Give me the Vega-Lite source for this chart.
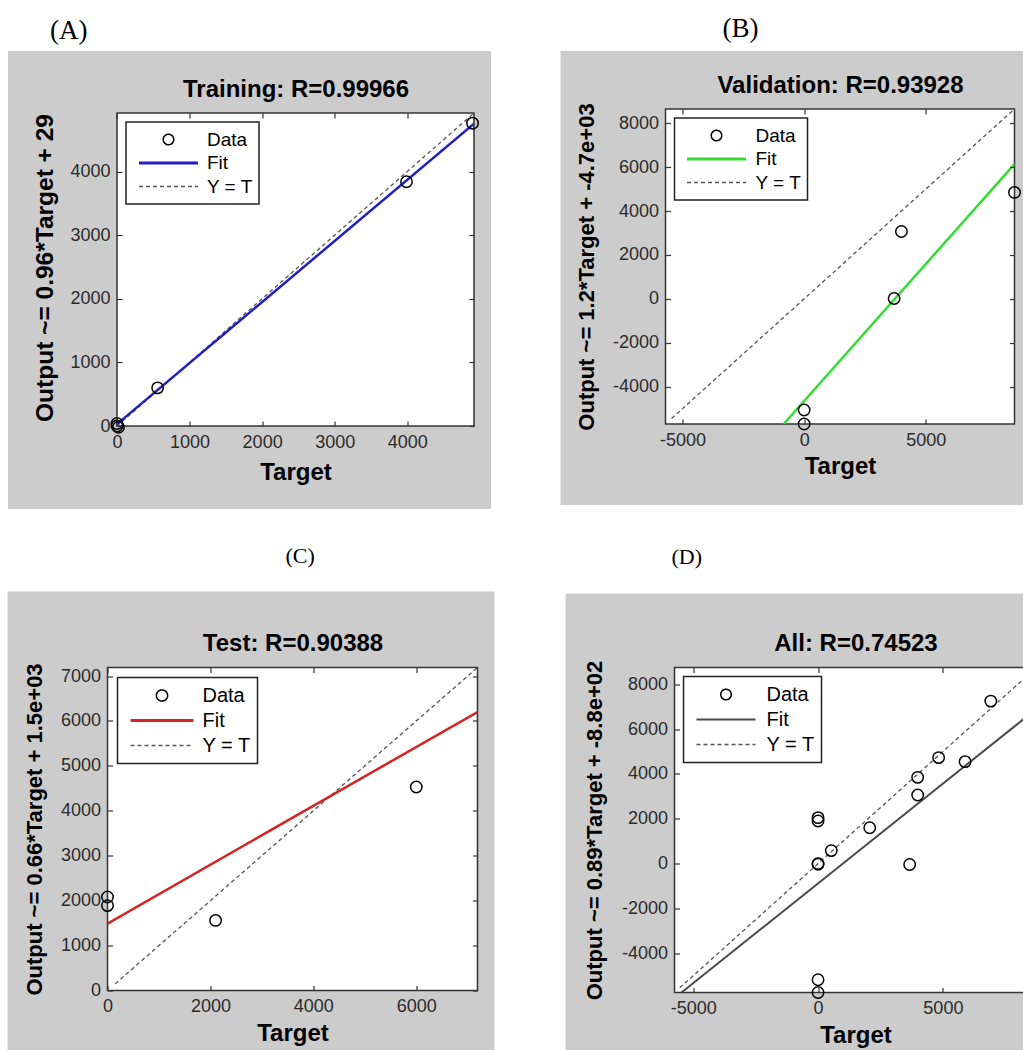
{
  "$schema": "https://vega.github.io/schema/vega-lite/v6.json",
  "background": "white",
  "padding": {"left": 7.5, "top": 15, "right": 0, "bottom": 0},
  "bounds": "full",
  "align": "none",
  "columns": 1,
  "spacing": 34.5,
  "resolve": {"scale": {"color": "independent"}, "legend": {"color": "independent"}},
  "concat": [
    {
      "bounds": "full",
      "spacing": 69,
      "resolve": {"scale": {"color": "independent"}, "legend": {"color": "independent"}},
      "hconcat": [
        {
          "width": 366.5, "height": 317,
          "title": {"text": "(A)", "anchor": "start", "frame": "bounds", "dx": 42, "offset": 6, "font": "Liberation Serif", "fontSize": 27, "fontWeight": "normal", "color": "black"},
          "data": {"values": [
            {"series": "Data", "target": 0, "output": 0},
            {"series": "Data", "target": 20, "output": -20},
            {"series": "Data", "target": 0, "output": 40},
            {"series": "Data", "target": 560, "output": 600},
            {"series": "Data", "target": 3990, "output": 3840},
            {"series": "Data", "target": 4900, "output": 4760},
            {"series": "Fit", "target": 0, "output": 29},
            {"series": "Fit", "target": 4920, "output": 4752},
            {"series": "Y = T", "target": 0, "output": 0},
            {"series": "Y = T", "target": 4920, "output": 4920}
          ]},
          "resolve": {"axis": {"x": "independent", "y": "independent"}},
          "layer": [
            {
              "data": {"values": [{"frame": "figure"}]},
              "mark": {"type": "rect", "color": "#cccccc"},
              "encoding": {
                "x": {"datum": -1502, "type": "quantitative", "scale": {"domain": [-130.9, 4920], "nice": false, "zero": false}, "axis": null},
                "x2": {"datum": 5154},
                "y": {"datum": 5895, "type": "quantitative", "scale": {"domain": [0, 4982.9], "nice": false, "zero": false}, "axis": null},
                "y2": {"datum": -1305}
              }
            },
            {
              "data": {"values": [{"frame": "axes"}]},
              "mark": {"type": "rect", "fill": "white", "stroke": "#333333", "strokeWidth": 1.5},
              "encoding": {
                "x": {"datum": 0, "type": "quantitative", "scale": {"domain": [-130.9, 4920], "nice": false, "zero": false},
                  "axis": {"orient": "bottom", "zindex": 1, "values": [0, 1000, 2000, 3000, 4000], "labelExpr": "'' + datum.value", "title": "Target", "titlePadding": 9, "titleX": 188}},
                "x2": {"datum": 4920},
                "y": {"datum": 0, "type": "quantitative", "scale": {"domain": [0, 4982.9], "nice": false, "zero": false},
                  "axis": {"orient": "left", "offset": -9.5, "zindex": 1, "values": [0, 1000, 2000, 3000, 4000], "labelExpr": "'' + datum.value", "title": "Output ~= 0.96*Target + 29", "titleFontSize": 24.5, "titlePadding": 12}},
                "y2": {"datum": 4920}
              }
            },
            {
              "transform": [{"filter": "datum.series === 'Y = T'"}],
              "mark": {"type": "line", "strokeDash": [4, 3], "strokeWidth": 1.3, "clip": true},
              "encoding": {
                "x": {"field": "target", "type": "quantitative", "scale": {"domain": [-130.9, 4920], "nice": false, "zero": false},
                  "axis": {"orient": "top", "offset": -4, "zindex": 1, "values": [0, 1000, 2000, 3000, 4000], "labels": false, "title": "Training: R=0.99966", "titlePadding": 11, "titleX": 188}},
                "y": {"field": "output", "type": "quantitative", "scale": {"domain": [0, 4982.9], "nice": false, "zero": false},
                  "axis": {"orient": "right", "zindex": 1, "values": [0, 1000, 2000, 3000, 4000], "labels": false, "title": null}},
                "color": {"field": "series", "type": "nominal", "scale": {"domain": ["Data", "Fit", "Y = T"], "range": ["black", "#2020c0", "#555555"]},
                  "legend": {"title": null, "orient": "none", "legendX": 18.5, "legendY": 13, "padding": 6, "strokeColor": "#222222", "fillColor": "white", "symbolSize": 3481, "clipHeight": 23, "rowPadding": 0.5, "symbolOffset": 27, "labelOffset": 29, "labelFont": "Liberation Sans", "labelFontSize": 19, "labelColor": "black", "symbolStrokeWidth": 2, "zindex": 2,
                    "encode": {"symbols": {"update": {"size": {"value": 3481}, "shape": {"signal": "datum.value === 'Data' ? 'M0.178,0A0.178,0.178,0,1,1,-0.178,0A0.178,0.178,0,1,1,0.178,0Z' : 'stroke'"}, "strokeDash": {"signal": "datum.value === 'Y = T' ? [4,3] : [1,0]"}, "strokeWidth": {"signal": "datum.value === 'Fit' ? 3 : 1.5"}, "fill": {"value": "transparent"}}}, "legend": {"update": {"strokeWidth": {"value": 1.5}}}}}}
              }
            },
            {
              "transform": [{"filter": "datum.series === 'Fit'"}],
              "mark": {"type": "line", "strokeWidth": 2.5, "clip": true},
              "encoding": {
                "x": {"field": "target", "type": "quantitative", "scale": {"domain": [-130.9, 4920], "nice": false, "zero": false}, "axis": null},
                "y": {"field": "output", "type": "quantitative", "scale": {"domain": [0, 4982.9], "nice": false, "zero": false}, "axis": null},
                "color": {"field": "series", "type": "nominal", "scale": {"domain": ["Data", "Fit", "Y = T"], "range": ["black", "#2020c0", "#555555"]},
                  "legend": {"title": null, "orient": "none", "legendX": 18.5, "legendY": 13, "padding": 6, "strokeColor": "#222222", "fillColor": "white", "symbolSize": 3481, "clipHeight": 23, "rowPadding": 0.5, "symbolOffset": 27, "labelOffset": 29, "labelFont": "Liberation Sans", "labelFontSize": 19, "labelColor": "black", "symbolStrokeWidth": 2, "zindex": 2,
                    "encode": {"symbols": {"update": {"size": {"value": 3481}, "shape": {"signal": "datum.value === 'Data' ? 'M0.178,0A0.178,0.178,0,1,1,-0.178,0A0.178,0.178,0,1,1,0.178,0Z' : 'stroke'"}, "strokeDash": {"signal": "datum.value === 'Y = T' ? [4,3] : [1,0]"}, "strokeWidth": {"signal": "datum.value === 'Fit' ? 3 : 1.5"}, "fill": {"value": "transparent"}}}, "legend": {"update": {"strokeWidth": {"value": 1.5}}}}}}
              }
            },
            {
              "transform": [{"filter": "datum.series === 'Data'"}],
              "mark": {"type": "point", "shape": "circle", "filled": false, "size": 130, "strokeWidth": 1.5, "opacity": 1},
              "encoding": {
                "x": {"field": "target", "type": "quantitative", "scale": {"domain": [-130.9, 4920], "nice": false, "zero": false}, "axis": null},
                "y": {"field": "output", "type": "quantitative", "scale": {"domain": [0, 4982.9], "nice": false, "zero": false}, "axis": null},
                "color": {"field": "series", "type": "nominal", "scale": {"domain": ["Data", "Fit", "Y = T"], "range": ["black", "#2020c0", "#555555"]},
                  "legend": {"title": null, "orient": "none", "legendX": 18.5, "legendY": 13, "padding": 6, "strokeColor": "#222222", "fillColor": "white", "symbolSize": 3481, "clipHeight": 23, "rowPadding": 0.5, "symbolOffset": 27, "labelOffset": 29, "labelFont": "Liberation Sans", "labelFontSize": 19, "labelColor": "black", "symbolStrokeWidth": 2, "zindex": 2,
                    "encode": {"symbols": {"update": {"size": {"value": 3481}, "shape": {"signal": "datum.value === 'Data' ? 'M0.178,0A0.178,0.178,0,1,1,-0.178,0A0.178,0.178,0,1,1,0.178,0Z' : 'stroke'"}, "strokeDash": {"signal": "datum.value === 'Y = T' ? [4,3] : [1,0]"}, "strokeWidth": {"signal": "datum.value === 'Fit' ? 3 : 1.5"}, "fill": {"value": "transparent"}}}, "legend": {"update": {"strokeWidth": {"value": 1.5}}}}}}
              }
            }
          ]
        },
        {
          "width": 349, "height": 315,
          "title": {"text": "(B)", "anchor": "start", "frame": "bounds", "dx": 162, "offset": 8, "font": "Liberation Serif", "fontSize": 27, "fontWeight": "normal", "color": "black"},
          "data": {"values": [
            {"series": "Data", "target": 0, "output": -5060},
            {"series": "Data", "target": 0, "output": -5700},
            {"series": "Data", "target": 3700, "output": 20},
            {"series": "Data", "target": 4000, "output": 3070},
            {"series": "Data", "target": 8650, "output": 4850},
            {"series": "Fit", "target": -840, "output": -5700},
            {"series": "Fit", "target": 8650, "output": 6140},
            {"series": "Y = T", "target": -5450, "output": -5450},
            {"series": "Y = T", "target": 8650, "output": 8650}
          ]},
          "resolve": {"axis": {"x": "independent", "y": "independent"}},
          "layer": [
            {
              "data": {"values": [{"frame": "figure"}]},
              "mark": {"type": "rect", "color": "#cccccc"},
              "encoding": {
                "x": {"datum": -10017, "type": "quantitative", "scale": {"domain": [-5700, 8650], "nice": false, "zero": false}, "axis": null},
                "x2": {"datum": 9308},
                "y": {"datum": 11292, "type": "quantitative", "scale": {"domain": [-5700, 8650], "nice": false, "zero": false}, "axis": null},
                "y2": {"datum": -9390}
              }
            },
            {
              "data": {"values": [{"frame": "axes"}]},
              "mark": {"type": "rect", "fill": "white", "stroke": "#333333", "strokeWidth": 1.5},
              "encoding": {
                "x": {"datum": -5700, "type": "quantitative", "scale": {"domain": [-5700, 8650], "nice": false, "zero": false},
                  "axis": {"orient": "bottom", "zindex": 1, "values": [-5000, 0, 5000], "labelExpr": "'' + datum.value", "title": "Target", "titlePadding": 5}},
                "x2": {"datum": 8650},
                "y": {"datum": -5700, "type": "quantitative", "scale": {"domain": [-5700, 8650], "nice": false, "zero": false},
                  "axis": {"orient": "left", "zindex": 1, "values": [-4000, -2000, 0, 2000, 4000, 6000, 8000], "labelExpr": "'' + datum.value", "title": "Output ~= 1.2*Target + -4.7e+03", "titleFontSize": 22, "titlePadding": 13.5}},
                "y2": {"datum": 8650}
              }
            },
            {
              "transform": [{"filter": "datum.series === 'Y = T'"}],
              "mark": {"type": "line", "strokeDash": [4, 3], "strokeWidth": 1.3, "clip": true},
              "encoding": {
                "x": {"field": "target", "type": "quantitative", "scale": {"domain": [-5700, 8650], "nice": false, "zero": false},
                  "axis": {"orient": "top", "zindex": 1, "values": [-5000, 0, 5000], "labels": false, "title": "Validation: R=0.93928", "titlePadding": 11}},
                "y": {"field": "output", "type": "quantitative", "scale": {"domain": [-5700, 8650], "nice": false, "zero": false},
                  "axis": {"orient": "right", "zindex": 1, "values": [-4000, -2000, 0, 2000, 4000, 6000, 8000], "labels": false, "title": null}},
                "color": {"field": "series", "type": "nominal", "scale": {"domain": ["Data", "Fit", "Y = T"], "range": ["black", "#35dc35", "#555555"]},
                  "legend": {"title": null, "orient": "top-left", "offset": 9, "padding": 6, "strokeColor": "#222222", "fillColor": "white", "symbolSize": 3481, "clipHeight": 23, "rowPadding": 0.5, "symbolOffset": 26.5, "labelOffset": 29.5, "labelFont": "Liberation Sans", "labelFontSize": 19, "labelColor": "black", "symbolStrokeWidth": 2, "zindex": 2,
                    "encode": {"symbols": {"update": {"size": {"value": 3481}, "shape": {"signal": "datum.value === 'Data' ? 'M0.178,0A0.178,0.178,0,1,1,-0.178,0A0.178,0.178,0,1,1,0.178,0Z' : 'stroke'"}, "strokeDash": {"signal": "datum.value === 'Y = T' ? [4,3] : [1,0]"}, "strokeWidth": {"signal": "datum.value === 'Fit' ? 3 : 1.5"}, "fill": {"value": "transparent"}}}, "legend": {"update": {"strokeWidth": {"value": 1.5}}}}}}
              }
            },
            {
              "transform": [{"filter": "datum.series === 'Fit'"}],
              "mark": {"type": "line", "strokeWidth": 2.5, "clip": true},
              "encoding": {
                "x": {"field": "target", "type": "quantitative", "scale": {"domain": [-5700, 8650], "nice": false, "zero": false}, "axis": null},
                "y": {"field": "output", "type": "quantitative", "scale": {"domain": [-5700, 8650], "nice": false, "zero": false}, "axis": null},
                "color": {"field": "series", "type": "nominal", "scale": {"domain": ["Data", "Fit", "Y = T"], "range": ["black", "#35dc35", "#555555"]},
                  "legend": {"title": null, "orient": "top-left", "offset": 9, "padding": 6, "strokeColor": "#222222", "fillColor": "white", "symbolSize": 3481, "clipHeight": 23, "rowPadding": 0.5, "symbolOffset": 26.5, "labelOffset": 29.5, "labelFont": "Liberation Sans", "labelFontSize": 19, "labelColor": "black", "symbolStrokeWidth": 2, "zindex": 2,
                    "encode": {"symbols": {"update": {"size": {"value": 3481}, "shape": {"signal": "datum.value === 'Data' ? 'M0.178,0A0.178,0.178,0,1,1,-0.178,0A0.178,0.178,0,1,1,0.178,0Z' : 'stroke'"}, "strokeDash": {"signal": "datum.value === 'Y = T' ? [4,3] : [1,0]"}, "strokeWidth": {"signal": "datum.value === 'Fit' ? 3 : 1.5"}, "fill": {"value": "transparent"}}}, "legend": {"update": {"strokeWidth": {"value": 1.5}}}}}}
              }
            },
            {
              "transform": [{"filter": "datum.series === 'Data'"}],
              "mark": {"type": "point", "shape": "circle", "filled": false, "size": 130, "strokeWidth": 1.5, "opacity": 1},
              "encoding": {
                "x": {"field": "target", "type": "quantitative", "scale": {"domain": [-5700, 8650], "nice": false, "zero": false}, "axis": null},
                "y": {"field": "output", "type": "quantitative", "scale": {"domain": [-5700, 8650], "nice": false, "zero": false}, "axis": null},
                "color": {"field": "series", "type": "nominal", "scale": {"domain": ["Data", "Fit", "Y = T"], "range": ["black", "#35dc35", "#555555"]},
                  "legend": {"title": null, "orient": "top-left", "offset": 9, "padding": 6, "strokeColor": "#222222", "fillColor": "white", "symbolSize": 3481, "clipHeight": 23, "rowPadding": 0.5, "symbolOffset": 26.5, "labelOffset": 29.5, "labelFont": "Liberation Sans", "labelFontSize": 19, "labelColor": "black", "symbolStrokeWidth": 2, "zindex": 2,
                    "encode": {"symbols": {"update": {"size": {"value": 3481}, "shape": {"signal": "datum.value === 'Data' ? 'M0.178,0A0.178,0.178,0,1,1,-0.178,0A0.178,0.178,0,1,1,0.178,0Z' : 'stroke'"}, "strokeDash": {"signal": "datum.value === 'Y = T' ? [4,3] : [1,0]"}, "strokeWidth": {"signal": "datum.value === 'Fit' ? 3 : 1.5"}, "fill": {"value": "transparent"}}}, "legend": {"update": {"strokeWidth": {"value": 1.5}}}}}}
              }
            }
          ]
        }
      ]
    },
    {
      "bounds": "full",
      "spacing": 71,
      "resolve": {"scale": {"color": "independent"}, "legend": {"color": "independent"}},
      "hconcat": [
        {
          "width": 370, "height": 323,
          "title": {"text": "(C)", "anchor": "start", "frame": "bounds", "dx": 278, "offset": 23, "font": "Liberation Serif", "fontSize": 22, "fontWeight": "normal", "color": "black"},
          "data": {"values": [
            {"series": "Data", "target": 0, "output": 2080},
            {"series": "Data", "target": 0, "output": 1890},
            {"series": "Data", "target": 2100, "output": 1560},
            {"series": "Data", "target": 6000, "output": 4530},
            {"series": "Fit", "target": 0, "output": 1490},
            {"series": "Fit", "target": 7190, "output": 6200},
            {"series": "Y = T", "target": 150, "output": 150},
            {"series": "Y = T", "target": 7190, "output": 7190}
          ]},
          "resolve": {"axis": {"x": "independent", "y": "independent"}},
          "layer": [
            {
              "data": {"values": [{"frame": "figure"}]},
              "mark": {"type": "rect", "color": "#cccccc"},
              "encoding": {
                "x": {"datum": -1943, "type": "quantitative", "scale": {"domain": [0, 7190], "nice": false, "zero": false}, "axis": null},
                "x2": {"datum": 7520},
                "y": {"datum": 8882, "type": "quantitative", "scale": {"domain": [0, 7190], "nice": false, "zero": false}, "axis": null},
                "y2": {"datum": -1558}
              }
            },
            {
              "data": {"values": [{"frame": "axes"}]},
              "mark": {"type": "rect", "fill": "white", "stroke": "#333333", "strokeWidth": 1.5},
              "encoding": {
                "x": {"datum": 0, "type": "quantitative", "scale": {"domain": [0, 7190], "nice": false, "zero": false},
                  "axis": {"orient": "bottom", "zindex": 1, "values": [0, 2000, 4000, 6000], "labelExpr": "'' + datum.value", "title": "Target", "titlePadding": 6}},
                "x2": {"datum": 7190},
                "y": {"datum": 0, "type": "quantitative", "scale": {"domain": [0, 7190], "nice": false, "zero": false},
                  "axis": {"orient": "left", "zindex": 1, "values": [0, 1000, 2000, 3000, 4000, 5000, 6000, 7000], "labelExpr": "'' + datum.value", "title": "Output ~= 0.66*Target + 1.5e+03", "titleFontSize": 22, "titlePadding": 14}},
                "y2": {"datum": 7190}
              }
            },
            {
              "transform": [{"filter": "datum.series === 'Y = T'"}],
              "mark": {"type": "line", "strokeDash": [4, 3], "strokeWidth": 1.3, "clip": true},
              "encoding": {
                "x": {"field": "target", "type": "quantitative", "scale": {"domain": [0, 7190], "nice": false, "zero": false},
                  "axis": {"orient": "top", "zindex": 1, "values": [0, 2000, 4000, 6000], "labels": false, "title": "Test: R=0.90388", "titlePadding": 11}},
                "y": {"field": "output", "type": "quantitative", "scale": {"domain": [0, 7190], "nice": false, "zero": false},
                  "axis": {"orient": "right", "zindex": 1, "values": [0, 1000, 2000, 3000, 4000, 5000, 6000, 7000], "labels": false, "title": null}},
                "color": {"field": "series", "type": "nominal", "scale": {"domain": ["Data", "Fit", "Y = T"], "range": ["black", "#d42424", "#555555"]},
                  "legend": {"title": null, "orient": "top-left", "offset": 10, "padding": 6, "strokeColor": "#222222", "fillColor": "white", "symbolSize": 3969, "clipHeight": 24, "rowPadding": 1, "symbolOffset": 28.5, "labelOffset": 30.5, "labelFont": "Liberation Sans", "labelFontSize": 20, "labelColor": "black", "symbolStrokeWidth": 2, "zindex": 2,
                    "encode": {"symbols": {"update": {"size": {"value": 3969}, "shape": {"signal": "datum.value === 'Data' ? 'M0.178,0A0.178,0.178,0,1,1,-0.178,0A0.178,0.178,0,1,1,0.178,0Z' : 'stroke'"}, "strokeDash": {"signal": "datum.value === 'Y = T' ? [4,3] : [1,0]"}, "strokeWidth": {"signal": "datum.value === 'Fit' ? 3 : 1.5"}, "fill": {"value": "transparent"}}}, "legend": {"update": {"strokeWidth": {"value": 1.5}}}}}}
              }
            },
            {
              "transform": [{"filter": "datum.series === 'Fit'"}],
              "mark": {"type": "line", "strokeWidth": 2.5, "clip": true},
              "encoding": {
                "x": {"field": "target", "type": "quantitative", "scale": {"domain": [0, 7190], "nice": false, "zero": false}, "axis": null},
                "y": {"field": "output", "type": "quantitative", "scale": {"domain": [0, 7190], "nice": false, "zero": false}, "axis": null},
                "color": {"field": "series", "type": "nominal", "scale": {"domain": ["Data", "Fit", "Y = T"], "range": ["black", "#d42424", "#555555"]},
                  "legend": {"title": null, "orient": "top-left", "offset": 10, "padding": 6, "strokeColor": "#222222", "fillColor": "white", "symbolSize": 3969, "clipHeight": 24, "rowPadding": 1, "symbolOffset": 28.5, "labelOffset": 30.5, "labelFont": "Liberation Sans", "labelFontSize": 20, "labelColor": "black", "symbolStrokeWidth": 2, "zindex": 2,
                    "encode": {"symbols": {"update": {"size": {"value": 3969}, "shape": {"signal": "datum.value === 'Data' ? 'M0.178,0A0.178,0.178,0,1,1,-0.178,0A0.178,0.178,0,1,1,0.178,0Z' : 'stroke'"}, "strokeDash": {"signal": "datum.value === 'Y = T' ? [4,3] : [1,0]"}, "strokeWidth": {"signal": "datum.value === 'Fit' ? 3 : 1.5"}, "fill": {"value": "transparent"}}}, "legend": {"update": {"strokeWidth": {"value": 1.5}}}}}}
              }
            },
            {
              "transform": [{"filter": "datum.series === 'Data'"}],
              "mark": {"type": "point", "shape": "circle", "filled": false, "size": 130, "strokeWidth": 1.5, "opacity": 1},
              "encoding": {
                "x": {"field": "target", "type": "quantitative", "scale": {"domain": [0, 7190], "nice": false, "zero": false}, "axis": null},
                "y": {"field": "output", "type": "quantitative", "scale": {"domain": [0, 7190], "nice": false, "zero": false}, "axis": null},
                "color": {"field": "series", "type": "nominal", "scale": {"domain": ["Data", "Fit", "Y = T"], "range": ["black", "#d42424", "#555555"]},
                  "legend": {"title": null, "orient": "top-left", "offset": 10, "padding": 6, "strokeColor": "#222222", "fillColor": "white", "symbolSize": 3969, "clipHeight": 24, "rowPadding": 1, "symbolOffset": 28.5, "labelOffset": 30.5, "labelFont": "Liberation Sans", "labelFontSize": 20, "labelColor": "black", "symbolStrokeWidth": 2, "zindex": 2,
                    "encode": {"symbols": {"update": {"size": {"value": 3969}, "shape": {"signal": "datum.value === 'Data' ? 'M0.178,0A0.178,0.178,0,1,1,-0.178,0A0.178,0.178,0,1,1,0.178,0Z' : 'stroke'"}, "strokeDash": {"signal": "datum.value === 'Y = T' ? [4,3] : [1,0]"}, "strokeWidth": {"signal": "datum.value === 'Fit' ? 3 : 1.5"}, "fill": {"value": "transparent"}}}, "legend": {"update": {"strokeWidth": {"value": 1.5}}}}}}
              }
            }
          ]
        },
        {
          "width": 362, "height": 325,
          "title": {"text": "(D)", "anchor": "start", "frame": "bounds", "dx": 106, "offset": 25, "font": "Liberation Serif", "fontSize": 22, "fontWeight": "normal", "color": "black"},
          "data": {"values": [
            {"series": "Data", "target": 0, "output": 2050},
            {"series": "Data", "target": 0, "output": 1900},
            {"series": "Data", "target": 0, "output": 0},
            {"series": "Data", "target": 0, "output": -30},
            {"series": "Data", "target": 530, "output": 580},
            {"series": "Data", "target": 2070, "output": 1600},
            {"series": "Data", "target": 3670, "output": -40},
            {"series": "Data", "target": 3990, "output": 3850},
            {"series": "Data", "target": 3990, "output": 3060},
            {"series": "Data", "target": 4830, "output": 4730},
            {"series": "Data", "target": 5890, "output": 4550},
            {"series": "Data", "target": 6920, "output": 7250},
            {"series": "Data", "target": 0, "output": -5180},
            {"series": "Data", "target": 0, "output": -5750},
            {"series": "Data", "target": 8650, "output": 4850},
            {"series": "Fit", "target": -5470, "output": -5750},
            {"series": "Fit", "target": 8750, "output": 6906},
            {"series": "Y = T", "target": -5540, "output": -5540},
            {"series": "Y = T", "target": 8750, "output": 8750}
          ]},
          "resolve": {"axis": {"x": "independent", "y": "independent"}},
          "layer": [
            {
              "data": {"values": [{"frame": "figure"}]},
              "mark": {"type": "rect", "color": "#cccccc"},
              "encoding": {
                "x": {"datum": -10116, "type": "quantitative", "scale": {"domain": [-5750, 8750], "nice": false, "zero": false}, "axis": null},
                "x2": {"datum": 8910},
                "y": {"datum": 12051, "type": "quantitative", "scale": {"domain": [-5750, 8750], "nice": false, "zero": false}, "axis": null},
                "y2": {"datum": -8739}
              }
            },
            {
              "data": {"values": [{"frame": "axes"}]},
              "mark": {"type": "rect", "fill": "white", "stroke": "#333333", "strokeWidth": 1.5},
              "encoding": {
                "x": {"datum": -5750, "type": "quantitative", "scale": {"domain": [-5750, 8750], "nice": false, "zero": false},
                  "axis": {"orient": "bottom", "zindex": 1, "values": [-5000, 0, 5000], "labelExpr": "'' + datum.value", "title": "Target", "titlePadding": 6}},
                "x2": {"datum": 8750},
                "y": {"datum": -5750, "type": "quantitative", "scale": {"domain": [-5750, 8750], "nice": false, "zero": false},
                  "axis": {"orient": "left", "zindex": 1, "values": [-4000, -2000, 0, 2000, 4000, 6000, 8000], "labelExpr": "'' + datum.value", "title": "Output ~= 0.89*Target + -8.8e+02", "titleFontSize": 22, "titlePadding": 15}},
                "y2": {"datum": 8750}
              }
            },
            {
              "transform": [{"filter": "datum.series === 'Y = T'"}],
              "mark": {"type": "line", "strokeDash": [4, 3], "strokeWidth": 1.3, "clip": true},
              "encoding": {
                "x": {"field": "target", "type": "quantitative", "scale": {"domain": [-5750, 8750], "nice": false, "zero": false},
                  "axis": {"orient": "top", "zindex": 1, "values": [-5000, 0, 5000], "labels": false, "title": "All: R=0.74523", "titlePadding": 11}},
                "y": {"field": "output", "type": "quantitative", "scale": {"domain": [-5750, 8750], "nice": false, "zero": false},
                  "axis": {"orient": "right", "zindex": 1, "values": [-4000, -2000, 0, 2000, 4000, 6000, 8000], "labels": false, "title": null}},
                "color": {"field": "series", "type": "nominal", "scale": {"domain": ["Data", "Fit", "Y = T"], "range": ["black", "#4a4a4a", "#555555"]},
                  "legend": {"title": null, "orient": "top-left", "offset": 9, "padding": 6, "strokeColor": "#222222", "fillColor": "white", "symbolSize": 3481, "clipHeight": 24, "rowPadding": 1, "symbolOffset": 26.5, "labelOffset": 30.5, "labelFont": "Liberation Sans", "labelFontSize": 20, "labelColor": "black", "symbolStrokeWidth": 2, "zindex": 2,
                    "encode": {"symbols": {"update": {"size": {"value": 3481}, "shape": {"signal": "datum.value === 'Data' ? 'M0.178,0A0.178,0.178,0,1,1,-0.178,0A0.178,0.178,0,1,1,0.178,0Z' : 'stroke'"}, "strokeDash": {"signal": "datum.value === 'Y = T' ? [4,3] : [1,0]"}, "strokeWidth": {"signal": "datum.value === 'Fit' ? 2 : 1.5"}, "fill": {"value": "transparent"}}}, "legend": {"update": {"strokeWidth": {"value": 1.5}}}}}}
              }
            },
            {
              "transform": [{"filter": "datum.series === 'Fit'"}],
              "mark": {"type": "line", "strokeWidth": 2, "clip": true},
              "encoding": {
                "x": {"field": "target", "type": "quantitative", "scale": {"domain": [-5750, 8750], "nice": false, "zero": false}, "axis": null},
                "y": {"field": "output", "type": "quantitative", "scale": {"domain": [-5750, 8750], "nice": false, "zero": false}, "axis": null},
                "color": {"field": "series", "type": "nominal", "scale": {"domain": ["Data", "Fit", "Y = T"], "range": ["black", "#4a4a4a", "#555555"]},
                  "legend": {"title": null, "orient": "top-left", "offset": 9, "padding": 6, "strokeColor": "#222222", "fillColor": "white", "symbolSize": 3481, "clipHeight": 24, "rowPadding": 1, "symbolOffset": 26.5, "labelOffset": 30.5, "labelFont": "Liberation Sans", "labelFontSize": 20, "labelColor": "black", "symbolStrokeWidth": 2, "zindex": 2,
                    "encode": {"symbols": {"update": {"size": {"value": 3481}, "shape": {"signal": "datum.value === 'Data' ? 'M0.178,0A0.178,0.178,0,1,1,-0.178,0A0.178,0.178,0,1,1,0.178,0Z' : 'stroke'"}, "strokeDash": {"signal": "datum.value === 'Y = T' ? [4,3] : [1,0]"}, "strokeWidth": {"signal": "datum.value === 'Fit' ? 2 : 1.5"}, "fill": {"value": "transparent"}}}, "legend": {"update": {"strokeWidth": {"value": 1.5}}}}}}
              }
            },
            {
              "transform": [{"filter": "datum.series === 'Data'"}],
              "mark": {"type": "point", "shape": "circle", "filled": false, "size": 130, "strokeWidth": 1.5, "opacity": 1},
              "encoding": {
                "x": {"field": "target", "type": "quantitative", "scale": {"domain": [-5750, 8750], "nice": false, "zero": false}, "axis": null},
                "y": {"field": "output", "type": "quantitative", "scale": {"domain": [-5750, 8750], "nice": false, "zero": false}, "axis": null},
                "color": {"field": "series", "type": "nominal", "scale": {"domain": ["Data", "Fit", "Y = T"], "range": ["black", "#4a4a4a", "#555555"]},
                  "legend": {"title": null, "orient": "top-left", "offset": 9, "padding": 6, "strokeColor": "#222222", "fillColor": "white", "symbolSize": 3481, "clipHeight": 24, "rowPadding": 1, "symbolOffset": 26.5, "labelOffset": 30.5, "labelFont": "Liberation Sans", "labelFontSize": 20, "labelColor": "black", "symbolStrokeWidth": 2, "zindex": 2,
                    "encode": {"symbols": {"update": {"size": {"value": 3481}, "shape": {"signal": "datum.value === 'Data' ? 'M0.178,0A0.178,0.178,0,1,1,-0.178,0A0.178,0.178,0,1,1,0.178,0Z' : 'stroke'"}, "strokeDash": {"signal": "datum.value === 'Y = T' ? [4,3] : [1,0]"}, "strokeWidth": {"signal": "datum.value === 'Fit' ? 2 : 1.5"}, "fill": {"value": "transparent"}}}, "legend": {"update": {"strokeWidth": {"value": 1.5}}}}}}
              }
            }
          ]
        }
      ]
    }
  ],
  "config": {
    "view": {"stroke": null},
    "axis": {
      "grid": false, "domain": false,
      "labelFont": "Liberation Sans", "labelFontSize": 18, "labelColor": "#2b2b2b",
      "titleFont": "Liberation Sans", "titleFontSize": 24, "titleFontWeight": "bold", "titleColor": "black",
      "tickColor": "#333333", "tickSize": -5, "tickWidth": 1.2,
      "labelPadding": 12, "labelFlush": false, "labelOverlap": false
    }
  }
}
